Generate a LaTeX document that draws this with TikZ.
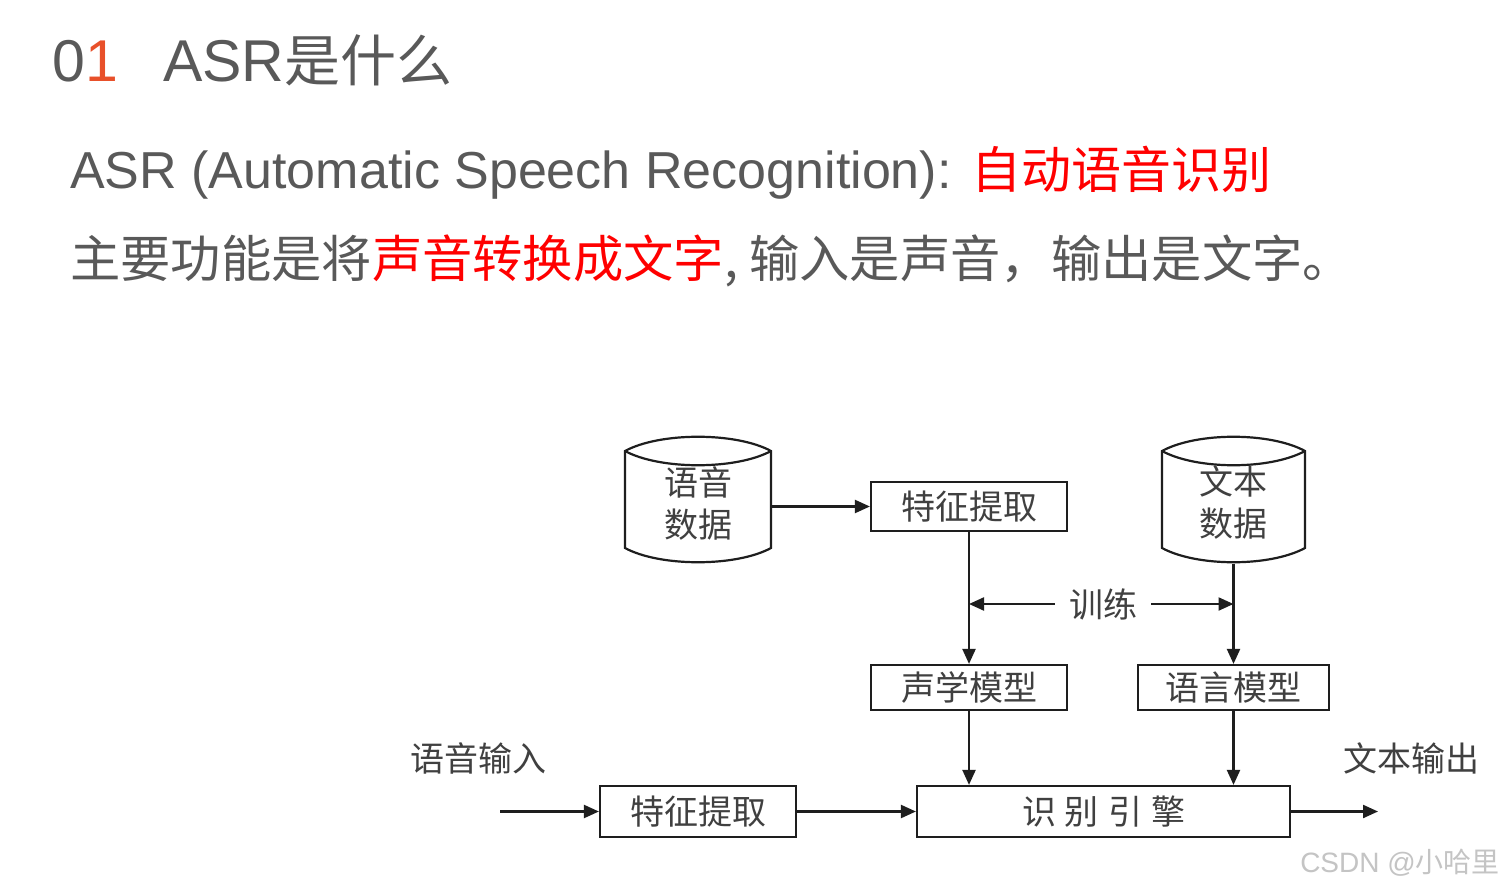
\documentclass[tikz,border=0pt]{standalone}
\usepackage{fontspec}
\setmainfont{Liberation Sans}
\newfontfamily\cjk{Noto Sans CJK SC}
\usetikzlibrary{arrows.meta}
\definecolor{txtgray}{HTML}{595959}
\definecolor{accent}{HTML}{E8502A}
\definecolor{hired}{HTML}{FF0000}
\definecolor{dgtext}{HTML}{404040}
\definecolor{dgline}{HTML}{1E1E1E}
\definecolor{wmgray}{HTML}{C4C4C4}
\begin{document}
\begin{tikzpicture}[x=1pt,y=-1pt,
  dfont/.style={font=\cjk\fontsize{34}{42}\selectfont, text=dgtext},
  box/.style={draw=dgline, line width=2.2pt, dfont, inner sep=0pt, align=center},
  cyl/.style={draw=dgline, line width=2.2pt},
  dbnode/.style={dfont, inner sep=0pt, align=center, minimum width=146pt, minimum height=125pt},
  arr/.style={draw=dgline, line width=2.2pt, -{Triangle[length=15pt,width=13pt]}},
  hdr/.style={anchor=base west, inner sep=0pt, text=txtgray}]
\useasboundingbox (0,0) rectangle (1506,890);
\fill[white] (0,0) rectangle (1506,890);

% header
\node[hdr, font=\fontsize{59}{66}\selectfont] (num) at (52,82) {0\textcolor{accent}{1}};
\node[hdr, font=\fontsize{59}{66}\selectfont] (title) at (163,82) {ASR{\cjk\fontsize{56}{66}\selectfont 是什么}};
\node[hdr, font=\fontsize{52}{60}\selectfont] (line2) at (70,189) {ASR (Automatic Speech Recognition): \textcolor{hired}{\cjk\fontsize{50}{60}\selectfont 自动语音识别}};
\node[hdr, font=\cjk\fontsize{50.3}{60}\selectfont] (line3) at (70,278) {主要功能是将\textcolor{hired}{声音转换成文字}, 输入是声音，输出是文字。};

% cylinders
\draw[cyl] (625,451) .. controls (660,432) and (736,432) .. (771,451) -- (771,548) .. controls (736,567) and (660,567) .. (625,548) -- cycle;
\draw[cyl] (625,451) .. controls (660,470) and (736,470) .. (771,451);
\node[dbnode] (db1) at (698,503) {语音\\数据};

\draw[cyl] (1162,451) .. controls (1197,432) and (1270,432) .. (1305,451) -- (1305,548) .. controls (1270,567) and (1197,567) .. (1162,548) -- cycle;
\draw[cyl] (1162,451) .. controls (1197,470) and (1270,470) .. (1305,451);
\node[dbnode, minimum width=143pt] (db2) at (1233.5,503) {文本\\数据};

% boxes
\node[box, minimum width=196pt, minimum height=49pt] (fe1) at (969,506.5) {特征提取};
\node[box, minimum width=196pt, minimum height=45pt] (am) at (969,687.5) {声学模型};
\node[box, minimum width=191pt, minimum height=45pt] (lm) at (1233.5,687.5) {语言模型};
\node[box, minimum width=373pt, minimum height=51pt] (eng) at (1103.5,811.5) {识\hspace{9pt}别\hspace{9pt}引\hspace{9pt}擎};
\node[box, minimum width=196pt, minimum height=51pt] (fe2) at (698,811.5) {特征提取};

% labels
\node[dfont, inner xsep=14pt, inner ysep=0pt] (tr) at (1103,604) {训练};
\node[dfont, inner sep=0pt] (inl) at (478,758) {语音输入};
\node[dfont, inner sep=0pt] (outl) at (1411,758) {文本输出};
\coordinate (in) at (500,811.5);
\coordinate (out) at (1378,811.5);

% connectors
\draw[arr] (db1.east |- fe1.west) -- (fe1.west);
\draw[arr] (fe1.south) -- (am.north);
\draw[arr] ([yshift=2pt]db2.south) -- (lm.north);
\draw[arr] (tr.west) -- (fe1.south |- tr.west);
\draw[arr] (tr.east) -- (db2.south |- tr.east);
\draw[arr] (am.south) -- (am.south |- eng.north);
\draw[arr] (lm.south) -- (lm.south |- eng.north);
\draw[arr] (in) -- (fe2.west);
\draw[arr] (fe2.east) -- (eng.west);
\draw[arr] (eng.east) -- (out);

% watermark
\node[anchor=base east, inner sep=0pt, text=wmgray, font=\fontsize{28}{32}\selectfont] (wm) at (1500,872) {CSDN @{\cjk 小哈里}};
\end{tikzpicture}
\end{document}
